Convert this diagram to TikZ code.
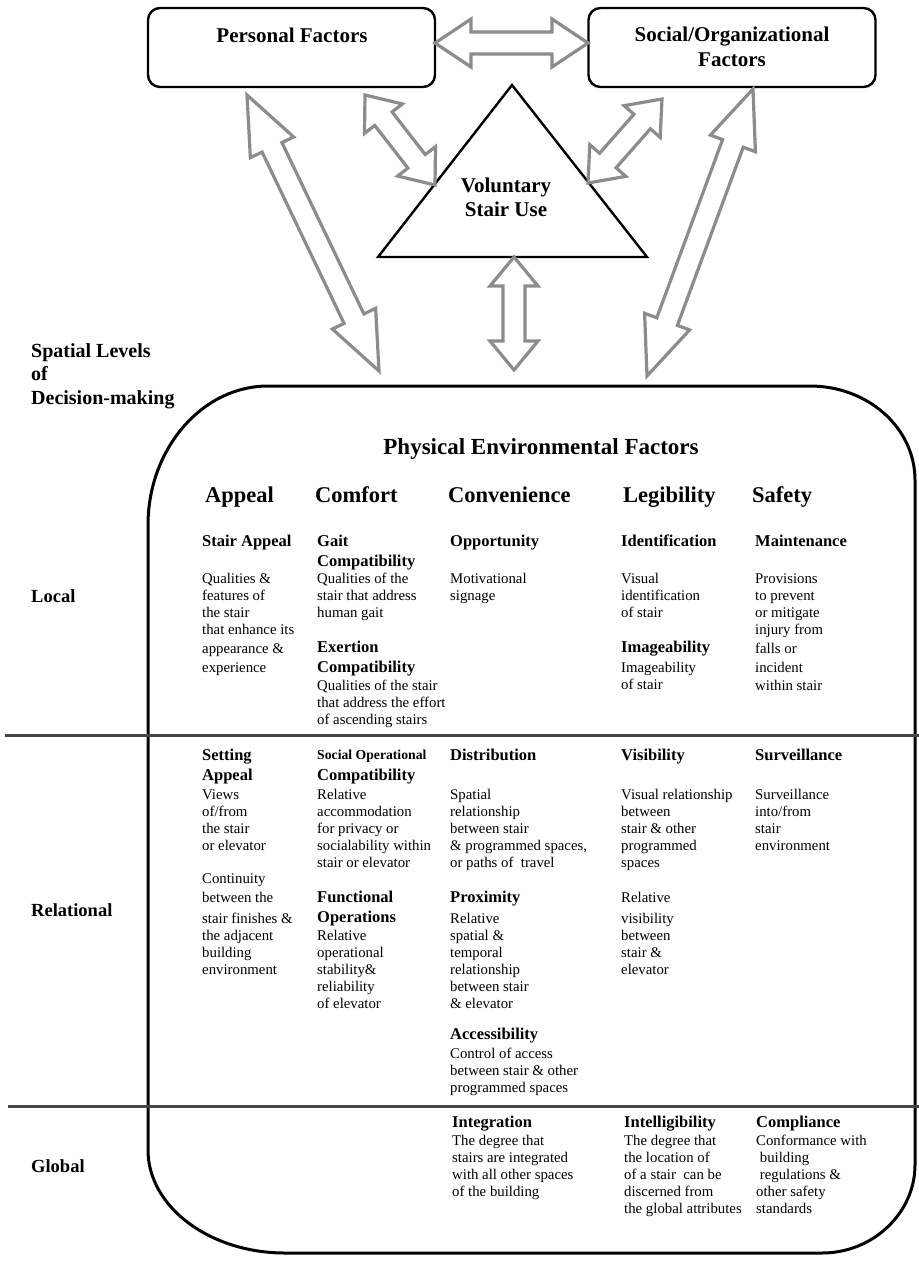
\documentclass[tikz,border=0pt]{standalone}
\usepackage{fontspec}
\setmainfont{Liberation Serif}
\usetikzlibrary{calc}
\definecolor{arrowgray}{RGB}{140,140,140}
\definecolor{rulegray}{RGB}{70,70,70}

% hollow two-headed arrow between two named points, #3 = head length
\newcommand{\dblarrow}[3]{%
  \draw[flowarrow] (#1)
    -- ($(#1)!#3!(#2)!24pt!90:(#2)$)
    -- ($(#1)!#3!(#2)!11pt!90:(#2)$)
    -- ($(#2)!#3!(#1)!11pt!270:(#1)$)
    -- ($(#2)!#3!(#1)!24pt!270:(#1)$)
    -- (#2)
    -- ($(#2)!#3!(#1)!24pt!90:(#1)$)
    -- ($(#2)!#3!(#1)!11pt!90:(#1)$)
    -- ($(#1)!#3!(#2)!11pt!270:(#2)$)
    -- ($(#1)!#3!(#2)!24pt!270:(#2)$)
    -- cycle;}

\begin{document}
\begin{tikzpicture}[x=1pt,y=-1pt]
    % Stair use model: three factor groups above, the physical environment grid below.

    \tikzset{
      factorbox/.style={draw, line width=2.4pt, rounded corners=12pt, minimum width=287pt, minimum height=79pt, inner sep=0pt},
      boxtext/.style={font=\fontsize{21}{25}\selectfont\bfseries, align=center, inner sep=0pt},
      flowarrow/.style={draw=arrowgray, line width=3.2pt, fill=white, line join=miter},
      envframe/.style={line width=3pt},
      divider/.style={draw=rulegray, line width=3pt},
      maintitle/.style={font=\fontsize{23}{27}\selectfont\bfseries, anchor=base, inner sep=0pt},
      cathead/.style={font=\fontsize{22.5}{26}\selectfont\bfseries, anchor=base west, inner sep=0pt},
      levellabel/.style={font=\fontsize{18.5}{23.5}\selectfont\bfseries, anchor=base west, align=left, inner sep=0pt},
      subhead/.style={font=\fontsize{16.5}{20}\selectfont\bfseries, anchor=north west, align=left, inner sep=0pt},
      smallhead/.style={font=\fontsize{13.7}{16}\selectfont\bfseries, anchor=north west, inner sep=0pt},
      bodytext/.style={font=\fontsize{14.8}{17}\selectfont, anchor=north west, align=left, inner sep=0pt}
    }

    \useasboundingbox (0,0) rectangle (919,1262);

    % --- top: personal, social, voluntary stair use
    \node[factorbox] (pers) at (291.5,47.5) {};
    \node[factorbox] (soc) at (732,47.5) {};
    \node[boxtext] (perstext) at (292,35) {Personal Factors};
    \node[boxtext] (soctext) at (732,47) {Social/Organizational\\Factors};

    \coordinate (apex) at (512,85);
    \coordinate (baseR) at (647,257);
    \coordinate (baseL) at (378,257);
    \draw[line width=2.4pt] (apex) -- (baseR) -- (baseL) -- cycle;
    \node[boxtext, font=\fontsize{21}{24}\selectfont\bfseries] (vsu) at (506,197) {Voluntary\\Stair Use};

    % --- arrow end points
    \coordinate (hL) at (435,43);
    \coordinate (hR) at (588,43);
    \coordinate (pl) at (365,95);
    \coordinate (tl) at (435,185);
    \coordinate (sr) at (662,99);
    \coordinate (tr) at (588,183);
    \coordinate (pd) at (247,95);
    \coordinate (el) at (379,371);
    \coordinate (sd) at (753,89);
    \coordinate (er) at (647,376);
    \coordinate (tb) at (514,257);
    \coordinate (ec) at (514,370);

    \dblarrow{hL}{hR}{36pt}
    \dblarrow{pl}{tl}{30pt}
    \dblarrow{sr}{tr}{30pt}
    \dblarrow{pd}{el}{58pt}
    \dblarrow{sd}{er}{58pt}
    \dblarrow{tb}{ec}{29pt}

    % --- physical environment frame and level rules
    \draw[envframe] (268,386) -- (810,386)
      .. controls (868,386) and (915,428) .. (915,480)
      -- (915,1165)
      .. controls (915,1213) and (873,1253) .. (822,1253)
      -- (285,1253)
      .. controls (210,1253) and (148,1207) .. (148,1150)
      -- (148,525)
      .. controls (148,449) and (202,386) .. (268,386) -- cycle;
    \draw[divider] (5,735) -- (919,735);
    \draw[divider] (8,1106) -- (919,1106);

    % --- spatial levels
    \node[levellabel, font=\fontsize{20}{23.5}\selectfont\bfseries] (spatial) at (31,404) {Spatial Levels\\of\\Decision-making};
    \node[levellabel] (local) at (31,602) {Local};
    \node[levellabel] (relational) at (31,916) {Relational};
    \node[levellabel] (global) at (31,1172) {Global};

    % --- headings
    \node[maintitle] (pef) at (541,454) {Physical Environmental Factors};
    \node[cathead] (appeal) at (205,502) {Appeal};
    \node[cathead] (comfort) at (315,502) {Comfort};
    \node[cathead] (conv) at (448,502) {Convenience};
    \node[cathead] (legib) at (623,502) {Legibility};
    \node[cathead] (safety) at (752,502) {Safety};

    % --- local level
    \node[subhead] (stairapp) at (202,535) {Stair Appeal};
    \node[bodytext] (stairappd) at (202,573) {Qualities \&\\features of\\the stair\\that enhance its\\[2pt]appearance \&\\[2pt]experience};
    \node[subhead] (gait) at (317,535) {Gait\\Compatibility};
    \node[bodytext] (gaitd) at (317,573) {Qualities of the\\stair that address\\human gait};
    \node[subhead] (exert) at (317,641) {Exertion\\Compatibility};
    \node[bodytext] (exertd) at (317,680) {Qualities of the stair\\that address the effort\\of ascending stairs};
    \node[subhead] (opp) at (450,535) {Opportunity};
    \node[bodytext] (oppd) at (450,573) {Motivational\\signage};
    \node[subhead] (ident) at (621,535) {Identification};
    \node[bodytext] (identd) at (621,573) {Visual\\identification\\of stair};
    \node[subhead] (image) at (621,641) {Imageability};
    \node[bodytext] (imaged) at (621,662) {Imageability\\of stair};
    \node[subhead] (maint) at (755,535) {Maintenance};
    \node[bodytext] (maintd) at (755,573) {Provisions\\to prevent\\or mitigate\\injury from\\[2pt]falls or\\[2pt]incident\\[1pt]within stair};

    % --- relational level
    \node[subhead] (setting) at (202,749) {Setting\\Appeal};
    \node[bodytext] (settingd) at (202,789) {Views\\of/from\\the stair\\or elevator};
    \node[bodytext] (contd) at (202,873) {Continuity\\[2pt]between the\\[4pt]stair finishes \&\\the adjacent\\building\\environment};
    \node[smallhead] (socop) at (317,750) {Social Operational};
    \node[subhead] (socopc) at (317,769) {Compatibility};
    \node[bodytext] (socopd) at (317,789) {Relative\\accommodation\\for privacy or\\socialability within\\stair or elevator};
    \node[subhead] (funct) at (317,891) {Functional\\Operations};
    \node[bodytext] (functd) at (317,930) {Relative\\operational\\stability\&\\reliability\\of elevator};
    \node[subhead] (distr) at (450,749) {Distribution};
    \node[bodytext] (distrd) at (450,789) {Spatial\\relationship\\between stair\\\& programmed spaces,\\or paths of~~travel};
    \node[subhead] (prox) at (450,891) {Proximity};
    \node[bodytext] (proxd) at (450,913) {Relative\\spatial \&\\temporal\\relationship\\between stair\\\& elevator};
    \node[subhead] (access) at (450,1028) {Accessibility};
    \node[bodytext] (accessd) at (450,1048) {Control of access\\between stair \& other\\programmed spaces};
    \node[subhead] (visib) at (621,749) {Visibility};
    \node[bodytext] (visibd) at (621,789) {Visual relationship\\between\\stair \& other\\programmed\\spaces};
    \node[bodytext] (visibd2) at (621,892) {Relative\\[4pt]visibility\\between\\stair \&\\elevator};
    \node[subhead] (surv) at (755,749) {Surveillance};
    \node[bodytext] (survd) at (755,789) {Surveillance\\into/from\\stair\\environment};

    % --- global level
    \node[subhead] (integ) at (452,1116) {Integration};
    \node[bodytext] (integd) at (452,1135) {The degree that\\stairs are integrated\\with all other spaces\\of the building};
    \node[subhead] (intell) at (624,1116) {Intelligibility};
    \node[bodytext] (intelld) at (624,1135) {The degree that\\the location of\\of a stair~~can be\\discerned from\\the global attributes};
    \node[subhead] (compl) at (756,1116) {Compliance};
    \node[bodytext] (compld) at (756,1135) {Conformance with\\~building\\~regulations \&\\other safety\\standards};
\end{tikzpicture}
\end{document}
